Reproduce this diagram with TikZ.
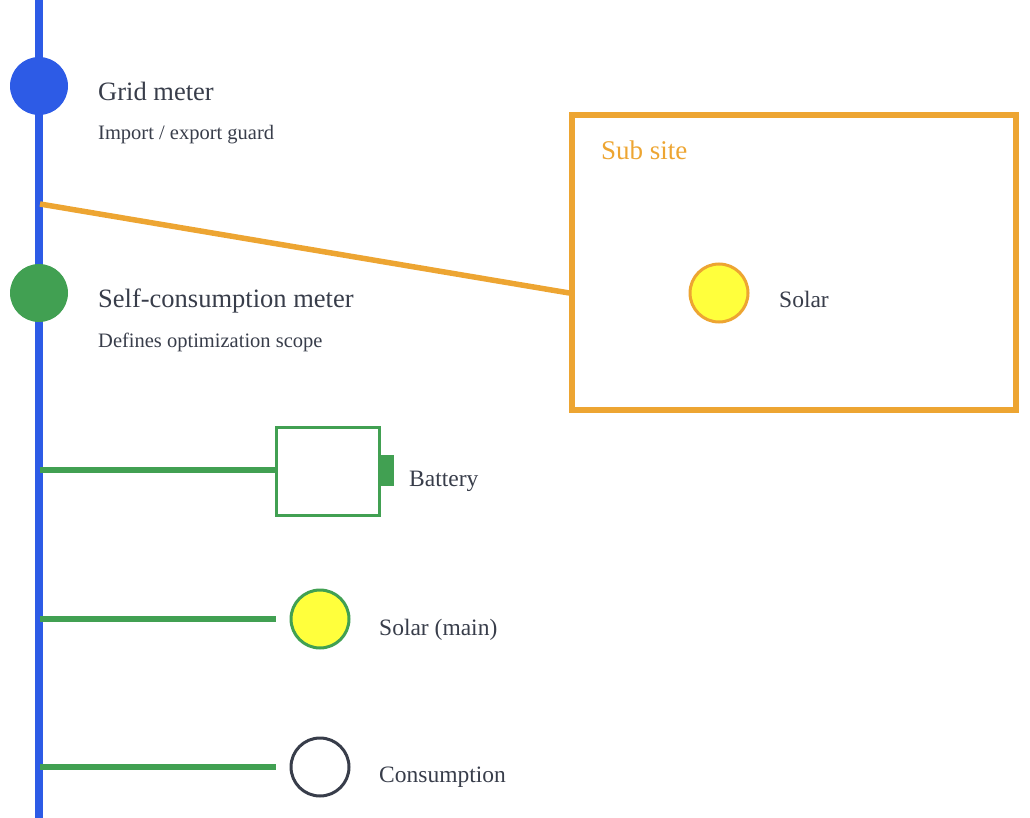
\documentclass[tikz,border=0pt]{standalone}
\usepackage{fontspec}
\setmainfont{Liberation Serif}
\definecolor{busblue}{HTML}{2D5BE6}
\definecolor{scgreen}{HTML}{41A052}
\definecolor{suborange}{HTML}{EDA532}
\definecolor{sunyellow}{HTML}{FFFF3C}
\definecolor{txt}{HTML}{383D4A}
\begin{document}
\begin{tikzpicture}[x=1pt,y=-1pt,
  title/.style={anchor=base west,inner sep=0pt,text=txt,font=\fontsize{26.5}{30}\selectfont},
  subtitle/.style={anchor=base west,inner sep=0pt,text=txt,font=\fontsize{20.5}{24}\selectfont},
  label/.style={anchor=base west,inner sep=0pt,text=txt,font=\fontsize{23.5}{28}\selectfont},
  meter/.style={circle,minimum size=58pt,inner sep=0pt},
  device/.style={circle,minimum size=58pt,inner sep=0pt,line width=3pt},
  feeder/.style={scgreen,line width=5.5pt},
]
\useasboundingbox (0,0) rectangle (1030,818);
% bus
\coordinate (bustop) at (39,0);
\coordinate (busbot) at (39,818);
\draw[busblue,line width=7.5pt] (bustop) -- (busbot);
% meters
\node[meter,fill=busblue] (grid) at (39,86) {};
\node[title] (gridt) at (98,101) {Grid meter};
\node[subtitle] (grids) at (98,140) {Import / export guard};
\node[meter,fill=scgreen] (self) at (39,293) {};
\node[title] (selft) at (98,307) {Self-consumption meter};
\node[subtitle] (selfs) at (98,347) {Defines optimization scope};
% sub site
\node[draw=suborange,line width=5.5pt,minimum width=444pt,minimum height=295pt,inner sep=0pt] (sub) at (794,262.5) {};
\node[anchor=base west,inner sep=0pt,text=suborange,font=\fontsize{27}{32}\selectfont] (subt) at (601,160) {Sub site};
\node[device,fill=sunyellow,draw=suborange] (solarsub) at (719,293) {};
\node[label] (solarsubt) at (779,307) {Solar};
\coordinate (tapsub) at (40,204);
\draw[suborange,line width=5.5pt] (tapsub) -- (sub.west |- solarsub);
% battery
\node[draw=scgreen,line width=3pt,minimum width=103pt,minimum height=88pt,inner sep=0pt] (bat) at (327.5,471) {};
\node[fill=scgreen,minimum width=13pt,minimum height=31pt,inner sep=0pt,anchor=west] (batterm) at ([xshift=0.5pt]bat.east |- 0,470.5) {};
\node[label] (batt) at (409,486) {Battery};
\coordinate (tapbat) at (40,470);
\draw[feeder] (tapbat) -- (bat.west |- tapbat);
% solar main
\node[device,fill=sunyellow,draw=scgreen] (solar) at (320,619) {};
\node[label] (solart) at (379,635) {Solar (main)};
\coordinate (tapsolar) at (40,619);
\draw[feeder] (tapsolar) -- (276,619) coordinate (solarend);
% consumption
\node[device,fill=white,draw=txt] (cons) at (320,767) {};
\node[label] (const) at (379,782) {Consumption};
\coordinate (tapcons) at (40,767);
\draw[feeder] (tapcons) -- (276,767) coordinate (consend);
\end{tikzpicture}
\end{document}
